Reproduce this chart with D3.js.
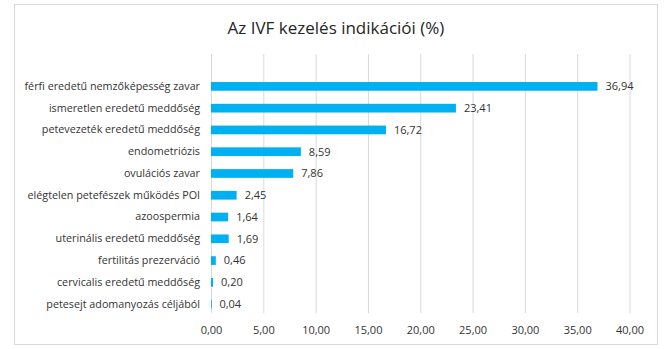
<!DOCTYPE html>
<html>
<head>
<meta charset="utf-8">
<script src="https://cdn.jsdelivr.net/npm/d3@7"></script>
<style>
  html, body { margin: 0; padding: 0; background: #fff; }
  svg { display: block; font-family: "Open Sans", "Noto Sans", sans-serif; }
</style>
</head>
<body>
<svg id="chart" width="671" height="349"></svg>
<script>
const categories = [
  "férfi eredetű nemzőképesség zavar",
  "ismeretlen eredetű meddőség",
  "petevezeték eredetű meddőség",
  "endometriózis",
  "ovulációs zavar",
  "elégtelen petefészek működés POI",
  "azoospermia",
  "uterinális eredetű meddőség",
  "fertilitás prezerváció",
  "cervicalis eredetű meddőség",
  "petesejt adomanyozás céljából"
];
const values = [36.94, 23.41, 16.72, 8.59, 7.86, 2.45, 1.64, 1.69, 0.46, 0.20, 0.04];
const xTicks = [0, 5, 10, 15, 20, 25, 30, 35, 40];
const title = "Az IVF kezelés indikációi (%)";

const svg = d3.select("#chart");
const fmt = v => v.toFixed(2).replace(".", ",");

// chart border
svg.append("rect")
  .attr("x", 14.5).attr("y", 4.5).attr("width", 643).attr("height", 340)
  .attr("fill", "#fff").attr("stroke", "#d9d9d9").attr("stroke-width", 1);

// title
svg.append("text")
  .attr("x", 336).attr("y", 34)
  .attr("text-anchor", "middle")
  .attr("font-size", 17).attr("fill", "#262626")
  .text(title);

const x = d3.scaleLinear().domain([0, 40]).range([211, 629.5]);
const gridTop = 54, gridBottom = 313;
const y = d3.scaleBand().domain(categories).range([75.5, 315]).paddingInner(0.6).paddingOuter(0.3);

// gridlines via axis
const grid = svg.append("g")
  .attr("transform", `translate(0,${gridBottom})`)
  .call(d3.axisBottom(x).tickValues(xTicks).tickSize(-(gridBottom - gridTop)).tickFormat(""));
grid.select(".domain").remove();
grid.selectAll(".tick line").attr("stroke", "#d9d9d9").attr("stroke-width", 1);

// x tick labels
const xa = svg.append("g")
  .attr("transform", `translate(0,${gridBottom})`)
  .call(d3.axisBottom(x).tickValues(xTicks).tickSize(0).tickPadding(13).tickFormat(fmt));
xa.select(".domain").remove();
xa.selectAll("text").attr("font-size", 11).attr("fill", "#333333")
  .attr("font-family", "'Open Sans', 'Noto Sans', sans-serif");

// category labels
const ya = svg.append("g")
  .attr("transform", `translate(${x(0)},0)`)
  .call(d3.axisLeft(y).tickSize(0).tickPadding(11));
ya.select(".domain").remove();
ya.selectAll("text").attr("font-size", 10.75).attr("fill", "#333333")
  .attr("font-family", "'Open Sans', 'Noto Sans', sans-serif");

// bars
svg.append("g").selectAll("rect")
  .data(values)
  .join("rect")
  .attr("x", x(0))
  .attr("y", (d, i) => y(categories[i]))
  .attr("width", d => Math.max(0.8, x(d) - x(0)))
  .attr("height", y.bandwidth())
  .attr("fill", "#00b0f0");

// value labels
svg.append("g").selectAll("text")
  .data(values)
  .join("text")
  .attr("x", d => x(d) + 8)
  .attr("y", (d, i) => y(categories[i]) + y.bandwidth() / 2)
  .attr("dy", "0.35em")
  .attr("font-size", 11).attr("fill", "#333333")
  .text(d => fmt(d));
</script>
</body>
</html>
